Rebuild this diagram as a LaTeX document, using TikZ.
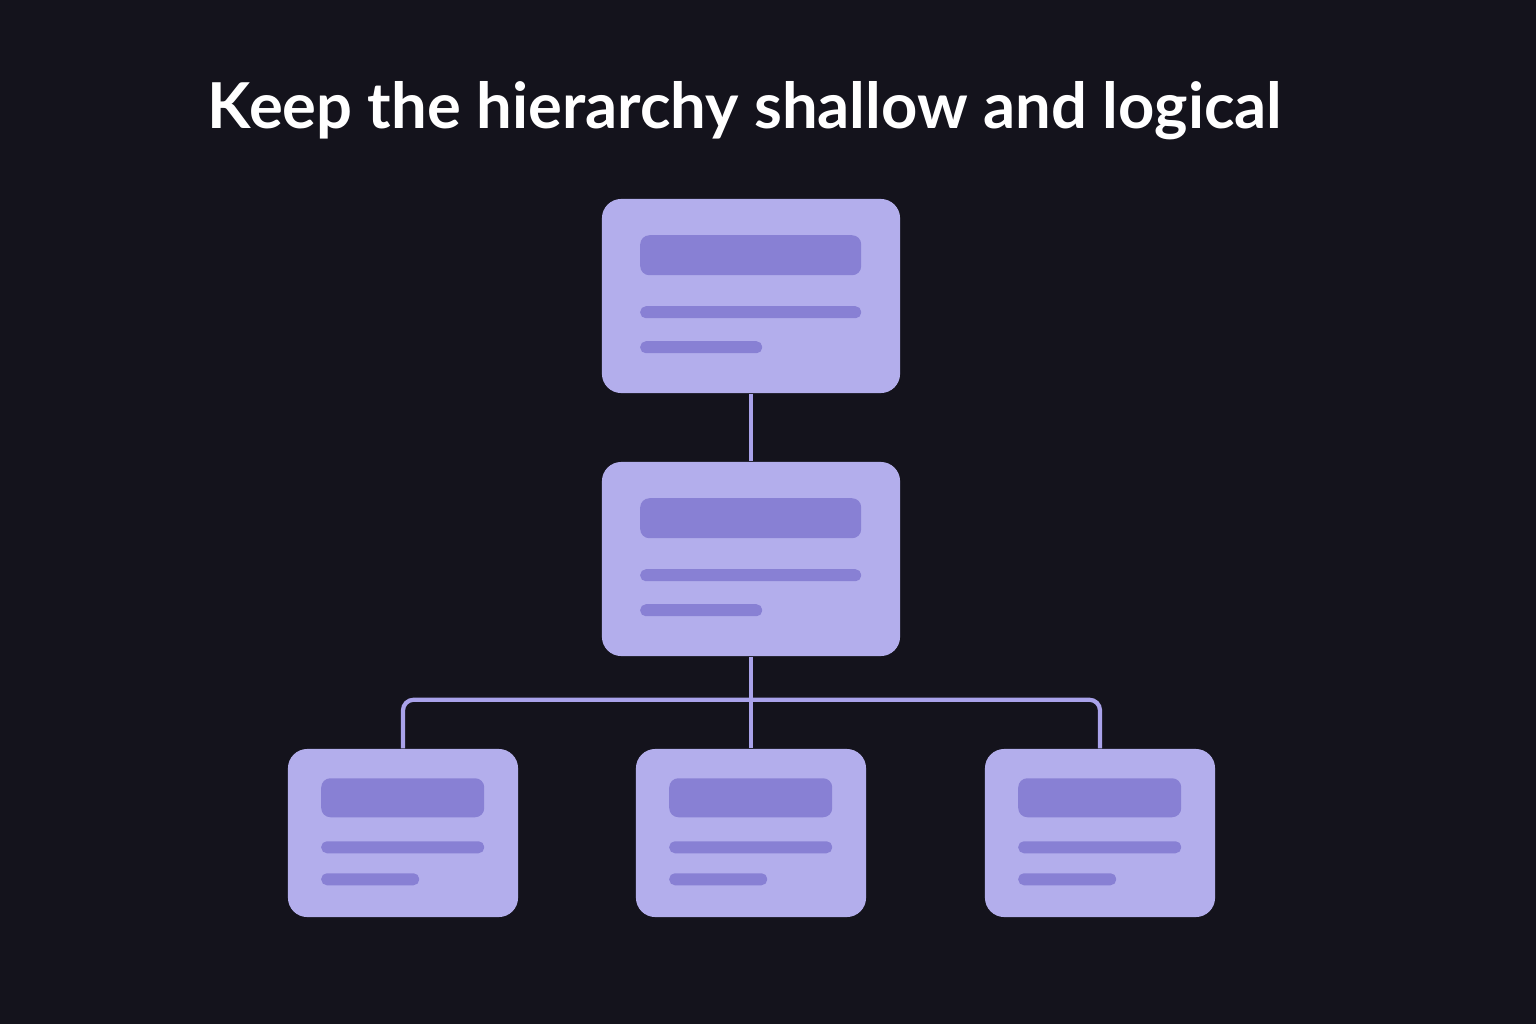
\documentclass[tikz,border=0pt]{standalone}
\usepackage{fontspec}
\setmainfont{Lato}
\usetikzlibrary{positioning, calc}
\definecolor{bgdark}{HTML}{14131C}
\definecolor{cardfill}{HTML}{B3AEEC}
\definecolor{bardark}{HTML}{8880D4}
\definecolor{linkcol}{HTML}{A9A2EA}
\tikzset{
  card/.style={fill=cardfill, rounded corners=5.5pt, inner sep=0pt},
  bar/.style={fill=bardark, rounded corners=2.6pt},
  thin bar/.style={fill=bardark, rounded corners=1.6pt},
  link/.style={draw=linkcol, line width=1.2pt, rounded corners=3pt}
}
\begin{document}
\begin{tikzpicture}[x=0.01cm, y=-0.01cm]
\fill[bgdark] (0,0) rectangle (1536,1024);
\useasboundingbox (0,0) rectangle (1536,1024);
\node[text=white, font=\bfseries\fontsize{18pt}{21pt}\selectfont] (title) at (745,111) {Keep the hierarchy shallow and logical};

% cards
\node[card, minimum width=2.98cm, minimum height=1.94cm] (root) at (751,296) {};
\node[card, minimum width=2.98cm, minimum height=1.94cm] (mid) at (751,559) {};
\node[card, minimum width=2.30cm, minimum height=1.68cm] (leftc) at (403,833) {};
\node[card, minimum width=2.30cm, minimum height=1.68cm] (centc) at (751,833) {};
\node[card, minimum width=2.30cm, minimum height=1.68cm] (rightc) at (1100,833) {};

% placeholder bars
\foreach \c in {root, mid} {
  \fill[bar] ($(\c.north west)+(39,37)$) rectangle ++(221,40);
  \fill[thin bar] ($(\c.north west)+(39,108)$) rectangle ++(221,12);
  \fill[thin bar] ($(\c.north west)+(39,143)$) rectangle ++(122,12);
}
\foreach \c in {leftc, centc, rightc} {
  \fill[bar] ($(\c.north west)+(34,30)$) rectangle ++(163,39);
  \fill[thin bar] ($(\c.north west)+(34,93)$) rectangle ++(163,12);
  \fill[thin bar] ($(\c.north west)+(34,125)$) rectangle ++(98,12);
}

% connectors
\draw[link] (root.south) -- (mid.north);
\draw[link] (mid.south) -- (centc.north);
\draw[link] (leftc.north) |- ($(mid.south)+(0,43)$) -| (rightc.north);
\end{tikzpicture}
\end{document}
